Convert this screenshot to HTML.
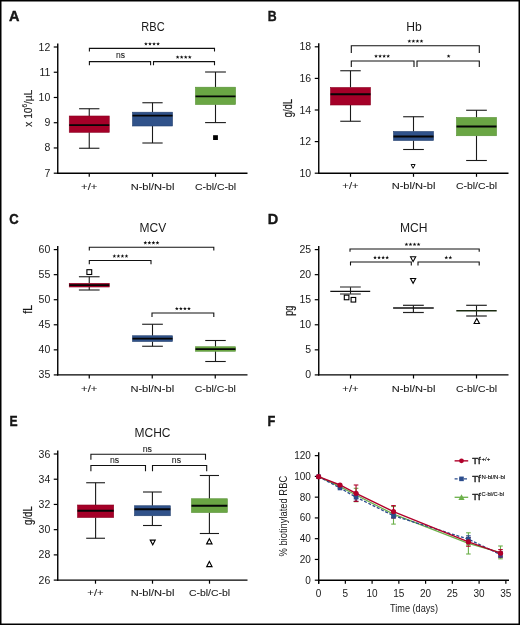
<!DOCTYPE html>
<html><head><meta charset="utf-8"><style>
html,body{margin:0;padding:0;background:#fff;}
body{width:520px;height:625px;overflow:hidden;font-family:"Liberation Sans",sans-serif;}
svg{display:block;will-change:transform;}
</style></head><body>
<svg width="520" height="625" viewBox="0 0 520 625" font-family="Liberation Sans, sans-serif">
<rect x="0" y="0" width="520" height="625" fill="#fff"/>
<text x="9" y="21" font-size="14.5" text-anchor="start" fill="#1a1a1a" font-weight="bold" stroke="#000" stroke-width="0.35">A</text>
<text x="153" y="31.4" font-size="12" text-anchor="middle" fill="#1a1a1a" textLength="23.3" lengthAdjust="spacingAndGlyphs">RBC</text>
<line x1="57.75" y1="43.4" x2="57.75" y2="173.79999999999998" stroke="#000" stroke-width="1.4"/>
<line x1="53.75" y1="173.2" x2="57.75" y2="173.2" stroke="#000" stroke-width="1.2"/>
<text x="50.3" y="176.7" font-size="10.5" text-anchor="end" fill="#1a1a1a">7</text>
<line x1="53.75" y1="147.95999999999998" x2="57.75" y2="147.95999999999998" stroke="#000" stroke-width="1.2"/>
<text x="50.3" y="151.45999999999998" font-size="10.5" text-anchor="end" fill="#1a1a1a">8</text>
<line x1="53.75" y1="122.72" x2="57.75" y2="122.72" stroke="#000" stroke-width="1.2"/>
<text x="50.3" y="126.22" font-size="10.5" text-anchor="end" fill="#1a1a1a">9</text>
<line x1="53.75" y1="97.47999999999999" x2="57.75" y2="97.47999999999999" stroke="#000" stroke-width="1.2"/>
<text x="50.3" y="100.97999999999999" font-size="10.5" text-anchor="end" fill="#1a1a1a">10</text>
<line x1="53.75" y1="72.24" x2="57.75" y2="72.24" stroke="#000" stroke-width="1.2"/>
<text x="50.3" y="75.74" font-size="10.5" text-anchor="end" fill="#1a1a1a">11</text>
<line x1="53.75" y1="47.0" x2="57.75" y2="47.0" stroke="#000" stroke-width="1.2"/>
<text x="50.3" y="50.5" font-size="10.5" text-anchor="end" fill="#1a1a1a">12</text>
<text x="32" y="108.2" font-size="11.5" text-anchor="middle" fill="#1a1a1a" transform="rotate(-90 32 108.2)" stroke="#1a1a1a" stroke-width="0.15" textLength="37" lengthAdjust="spacingAndGlyphs">x 10<tspan dy="-5" font-size="7.5">6</tspan><tspan dy="5">/µL</tspan></text>
<line x1="57.05" y1="173.2" x2="247.5" y2="173.2" stroke="#000" stroke-width="1.4"/>
<line x1="89.25" y1="173.2" x2="89.25" y2="176.79999999999998" stroke="#000" stroke-width="1.2"/>
<text x="89.25" y="189.5" font-size="9.5" text-anchor="middle" fill="#1a1a1a" textLength="16.3" lengthAdjust="spacingAndGlyphs" stroke="#1a1a1a" stroke-width="0.08">+/+</text>
<line x1="152.5" y1="173.2" x2="152.5" y2="176.79999999999998" stroke="#000" stroke-width="1.2"/>
<text x="152.5" y="189.5" font-size="9.5" text-anchor="middle" fill="#1a1a1a" textLength="43.75" lengthAdjust="spacingAndGlyphs" stroke="#1a1a1a" stroke-width="0.08">N-bl/N-bl</text>
<line x1="215.5" y1="173.2" x2="215.5" y2="176.79999999999998" stroke="#000" stroke-width="1.2"/>
<text x="215.5" y="189.5" font-size="9.5" text-anchor="middle" fill="#1a1a1a" textLength="41.25" lengthAdjust="spacingAndGlyphs" stroke="#1a1a1a" stroke-width="0.08">C-bl/C-bl</text>
<path d="M89.4 51.6V48.4H214.5V51.6" fill="none" stroke="#111" stroke-width="1.1"/>
<path d="M89.4 65.2V61.6H150.6V65.2" fill="none" stroke="#111" stroke-width="1.1"/>
<path d="M153.5 65.2V61.6H214.5V65.2" fill="none" stroke="#111" stroke-width="1.1"/>
<polygon points="145.93,42.00 146.42,43.31 147.83,43.38 146.73,44.26 147.10,45.62 145.93,44.85 144.75,45.62 145.12,44.26 144.02,43.38 145.43,43.31" fill="#111"/>
<polygon points="149.98,42.00 150.47,43.31 151.88,43.38 150.78,44.26 151.15,45.62 149.98,44.85 148.80,45.62 149.17,44.26 148.07,43.38 149.48,43.31" fill="#111"/>
<polygon points="154.03,42.00 154.52,43.31 155.93,43.38 154.83,44.26 155.20,45.62 154.03,44.85 152.85,45.62 153.22,44.26 152.12,43.38 153.53,43.31" fill="#111"/>
<polygon points="158.08,42.00 158.57,43.31 159.98,43.38 158.88,44.26 159.25,45.62 158.08,44.85 156.90,45.62 157.27,44.26 156.17,43.38 157.58,43.31" fill="#111"/>
<text x="120.6" y="58.3" font-size="9.2" text-anchor="middle" fill="#1a1a1a" textLength="9" lengthAdjust="spacingAndGlyphs" stroke="#1a1a1a" stroke-width="0.08">ns</text>
<polygon points="177.62,55.20 178.12,56.51 179.53,56.58 178.43,57.46 178.80,58.82 177.62,58.05 176.45,58.82 176.82,57.46 175.72,56.58 177.13,56.51" fill="#111"/>
<polygon points="181.68,55.20 182.17,56.51 183.58,56.58 182.48,57.46 182.85,58.82 181.68,58.05 180.50,58.82 180.87,57.46 179.77,56.58 181.18,56.51" fill="#111"/>
<polygon points="185.72,55.20 186.22,56.51 187.63,56.58 186.53,57.46 186.90,58.82 185.72,58.05 184.55,58.82 184.92,57.46 183.82,56.58 185.23,56.51" fill="#111"/>
<polygon points="189.78,55.20 190.27,56.51 191.68,56.58 190.58,57.46 190.95,58.82 189.78,58.05 188.60,58.82 188.97,57.46 187.87,56.58 189.28,56.51" fill="#111"/>
<line x1="89.25" y1="108.75" x2="89.25" y2="116" stroke="#1a1a1a" stroke-width="1.1"/>
<line x1="89.25" y1="132.3" x2="89.25" y2="148.25" stroke="#1a1a1a" stroke-width="1.1"/>
<line x1="79.1" y1="108.75" x2="99.4" y2="108.75" stroke="#1a1a1a" stroke-width="1.1"/>
<line x1="79.1" y1="148.25" x2="99.4" y2="148.25" stroke="#1a1a1a" stroke-width="1.1"/>
<rect x="69.25" y="116" width="40" height="16.30000000000001" fill="#a50028" stroke="#8a0020" stroke-width="0.6"/>
<line x1="69.25" y1="125.2" x2="109.25" y2="125.2" stroke="#050505" stroke-width="1.8"/>
<line x1="152.5" y1="102.75" x2="152.5" y2="112.2" stroke="#1a1a1a" stroke-width="1.1"/>
<line x1="152.5" y1="126" x2="152.5" y2="143" stroke="#1a1a1a" stroke-width="1.1"/>
<line x1="142.35" y1="102.75" x2="162.65" y2="102.75" stroke="#1a1a1a" stroke-width="1.1"/>
<line x1="142.35" y1="143" x2="162.65" y2="143" stroke="#1a1a1a" stroke-width="1.1"/>
<rect x="132.5" y="112.2" width="40" height="13.799999999999997" fill="#30528a" stroke="#24406e" stroke-width="0.6"/>
<line x1="132.5" y1="115.7" x2="172.5" y2="115.7" stroke="#050505" stroke-width="1.8"/>
<line x1="215.5" y1="72" x2="215.5" y2="87.2" stroke="#1a1a1a" stroke-width="1.1"/>
<line x1="215.5" y1="104.5" x2="215.5" y2="122.6" stroke="#1a1a1a" stroke-width="1.1"/>
<line x1="205.1" y1="72" x2="225.9" y2="72" stroke="#1a1a1a" stroke-width="1.1"/>
<line x1="205.1" y1="122.6" x2="225.9" y2="122.6" stroke="#1a1a1a" stroke-width="1.1"/>
<rect x="195.5" y="87.2" width="40" height="17.299999999999997" fill="#6aa644" stroke="#559033" stroke-width="0.6"/>
<line x1="195.5" y1="96.3" x2="235.5" y2="96.3" stroke="#050505" stroke-width="1.8"/>
<rect x="213.1" y="135.2" width="4.8" height="4.8" fill="#000"/>
<text x="267.8" y="21" font-size="14.5" text-anchor="start" fill="#1a1a1a" font-weight="bold" textLength="8.9" lengthAdjust="spacingAndGlyphs" stroke="#000" stroke-width="0.35">B</text>
<text x="414" y="31.2" font-size="12" text-anchor="middle" fill="#1a1a1a" textLength="15.5" lengthAdjust="spacingAndGlyphs">Hb</text>
<line x1="318.75" y1="43.19999999999998" x2="318.75" y2="173.79999999999998" stroke="#000" stroke-width="1.4"/>
<line x1="314.75" y1="173.2" x2="318.75" y2="173.2" stroke="#000" stroke-width="1.2"/>
<text x="311.2" y="176.7" font-size="10.5" text-anchor="end" fill="#1a1a1a">10</text>
<line x1="314.75" y1="141.6" x2="318.75" y2="141.6" stroke="#000" stroke-width="1.2"/>
<text x="311.2" y="145.1" font-size="10.5" text-anchor="end" fill="#1a1a1a">12</text>
<line x1="314.75" y1="109.99999999999999" x2="318.75" y2="109.99999999999999" stroke="#000" stroke-width="1.2"/>
<text x="311.2" y="113.49999999999999" font-size="10.5" text-anchor="end" fill="#1a1a1a">14</text>
<line x1="314.75" y1="78.39999999999998" x2="318.75" y2="78.39999999999998" stroke="#000" stroke-width="1.2"/>
<text x="311.2" y="81.89999999999998" font-size="10.5" text-anchor="end" fill="#1a1a1a">16</text>
<line x1="314.75" y1="46.79999999999998" x2="318.75" y2="46.79999999999998" stroke="#000" stroke-width="1.2"/>
<text x="311.2" y="50.29999999999998" font-size="10.5" text-anchor="end" fill="#1a1a1a">18</text>
<text x="292.3" y="108.1" font-size="12.3" text-anchor="middle" fill="#1a1a1a" textLength="18.3" lengthAdjust="spacingAndGlyphs" transform="rotate(-90 292.3 108.1)" stroke="#1a1a1a" stroke-width="0.2">g/dL</text>
<line x1="318.05" y1="173.2" x2="508.5" y2="173.2" stroke="#000" stroke-width="1.4"/>
<line x1="350.5" y1="173.2" x2="350.5" y2="176.79999999999998" stroke="#000" stroke-width="1.2"/>
<text x="350.5" y="189.3" font-size="9.5" text-anchor="middle" fill="#1a1a1a" textLength="16.3" lengthAdjust="spacingAndGlyphs" stroke="#1a1a1a" stroke-width="0.08">+/+</text>
<line x1="413.5" y1="173.2" x2="413.5" y2="176.79999999999998" stroke="#000" stroke-width="1.2"/>
<text x="413.5" y="189.3" font-size="9.5" text-anchor="middle" fill="#1a1a1a" textLength="43.75" lengthAdjust="spacingAndGlyphs" stroke="#1a1a1a" stroke-width="0.08">N-bl/N-bl</text>
<line x1="476.5" y1="173.2" x2="476.5" y2="176.79999999999998" stroke="#000" stroke-width="1.2"/>
<text x="476.5" y="189.3" font-size="9.5" text-anchor="middle" fill="#1a1a1a" textLength="41.25" lengthAdjust="spacingAndGlyphs" stroke="#1a1a1a" stroke-width="0.08">C-bl/C-bl</text>
<path d="M351.3 52.900000000000006V45.7H479.3V52.900000000000006" fill="none" stroke="#111" stroke-width="1.1"/>
<path d="M351.3 67V61H414V67" fill="none" stroke="#111" stroke-width="1.1"/>
<path d="M417 67V61H479.3V67" fill="none" stroke="#111" stroke-width="1.1"/>
<polygon points="409.32,39.20 409.82,40.51 411.23,40.58 410.13,41.46 410.50,42.82 409.32,42.05 408.15,42.82 408.52,41.46 407.42,40.58 408.83,40.51" fill="#111"/>
<polygon points="413.38,39.20 413.87,40.51 415.28,40.58 414.18,41.46 414.55,42.82 413.38,42.05 412.20,42.82 412.57,41.46 411.47,40.58 412.88,40.51" fill="#111"/>
<polygon points="417.43,39.20 417.92,40.51 419.33,40.58 418.23,41.46 418.60,42.82 417.43,42.05 416.25,42.82 416.62,41.46 415.52,40.58 416.93,40.51" fill="#111"/>
<polygon points="421.47,39.20 421.97,40.51 423.38,40.58 422.28,41.46 422.65,42.82 421.47,42.05 420.30,42.82 420.67,41.46 419.57,40.58 420.98,40.51" fill="#111"/>
<polygon points="376.03,54.20 376.52,55.51 377.93,55.58 376.83,56.46 377.20,57.82 376.03,57.05 374.85,57.82 375.22,56.46 374.12,55.58 375.53,55.51" fill="#111"/>
<polygon points="380.08,54.20 380.57,55.51 381.98,55.58 380.88,56.46 381.25,57.82 380.08,57.05 378.90,57.82 379.27,56.46 378.17,55.58 379.58,55.51" fill="#111"/>
<polygon points="384.13,54.20 384.62,55.51 386.03,55.58 384.93,56.46 385.30,57.82 384.13,57.05 382.95,57.82 383.32,56.46 382.22,55.58 383.63,55.51" fill="#111"/>
<polygon points="388.18,54.20 388.67,55.51 390.08,55.58 388.98,56.46 389.35,57.82 388.18,57.05 387.00,57.82 387.37,56.46 386.27,55.58 387.68,55.51" fill="#111"/>
<polygon points="448.60,54.20 449.10,55.51 450.50,55.58 449.41,56.46 449.78,57.82 448.60,57.05 447.42,57.82 447.79,56.46 446.70,55.58 448.10,55.51" fill="#111"/>
<line x1="350.5" y1="70.75" x2="350.5" y2="87.5" stroke="#1a1a1a" stroke-width="1.1"/>
<line x1="350.5" y1="105" x2="350.5" y2="121.25" stroke="#1a1a1a" stroke-width="1.1"/>
<line x1="340.25" y1="70.75" x2="360.75" y2="70.75" stroke="#1a1a1a" stroke-width="1.1"/>
<line x1="340.25" y1="121.25" x2="360.75" y2="121.25" stroke="#1a1a1a" stroke-width="1.1"/>
<rect x="330.5" y="87.5" width="40" height="17.5" fill="#a50028" stroke="#8a0020" stroke-width="0.6"/>
<line x1="330.5" y1="94.25" x2="370.5" y2="94.25" stroke="#050505" stroke-width="1.8"/>
<line x1="413.5" y1="116.75" x2="413.5" y2="131.5" stroke="#1a1a1a" stroke-width="1.1"/>
<line x1="413.5" y1="140.5" x2="413.5" y2="149.5" stroke="#1a1a1a" stroke-width="1.1"/>
<line x1="403.15" y1="116.75" x2="423.85" y2="116.75" stroke="#1a1a1a" stroke-width="1.1"/>
<line x1="403.15" y1="149.5" x2="423.85" y2="149.5" stroke="#1a1a1a" stroke-width="1.1"/>
<rect x="393.5" y="131.5" width="40" height="9.0" fill="#30528a" stroke="#24406e" stroke-width="0.6"/>
<line x1="393.5" y1="136.5" x2="433.5" y2="136.5" stroke="#050505" stroke-width="1.8"/>
<line x1="476.5" y1="110.25" x2="476.5" y2="117.5" stroke="#1a1a1a" stroke-width="1.1"/>
<line x1="476.5" y1="135.75" x2="476.5" y2="160.5" stroke="#1a1a1a" stroke-width="1.1"/>
<line x1="466.15" y1="110.25" x2="486.85" y2="110.25" stroke="#1a1a1a" stroke-width="1.1"/>
<line x1="466.15" y1="160.5" x2="486.85" y2="160.5" stroke="#1a1a1a" stroke-width="1.1"/>
<rect x="456.5" y="117.5" width="40" height="18.25" fill="#6aa644" stroke="#559033" stroke-width="0.6"/>
<line x1="456.5" y1="126.5" x2="496.5" y2="126.5" stroke="#050505" stroke-width="1.8"/>
<path d="M411.10 164.50L413.10 168.30L415.10 164.50Z" fill="none" stroke="#000" stroke-width="0.95" stroke-linejoin="miter"/>
<text x="9.2" y="224" font-size="14.5" text-anchor="start" fill="#1a1a1a" font-weight="bold" textLength="9.4" lengthAdjust="spacingAndGlyphs" stroke="#000" stroke-width="0.35">C</text>
<text x="152.9" y="232.4" font-size="12" text-anchor="middle" fill="#1a1a1a" textLength="26.7" lengthAdjust="spacingAndGlyphs">MCV</text>
<line x1="57.75" y1="246.0" x2="57.75" y2="375.5" stroke="#000" stroke-width="1.4"/>
<line x1="53.75" y1="374.9" x2="57.75" y2="374.9" stroke="#000" stroke-width="1.2"/>
<text x="50.3" y="378.4" font-size="10.5" text-anchor="end" fill="#1a1a1a">35</text>
<line x1="53.75" y1="349.84" x2="57.75" y2="349.84" stroke="#000" stroke-width="1.2"/>
<text x="50.3" y="353.34" font-size="10.5" text-anchor="end" fill="#1a1a1a">40</text>
<line x1="53.75" y1="324.78" x2="57.75" y2="324.78" stroke="#000" stroke-width="1.2"/>
<text x="50.3" y="328.28" font-size="10.5" text-anchor="end" fill="#1a1a1a">45</text>
<line x1="53.75" y1="299.71999999999997" x2="57.75" y2="299.71999999999997" stroke="#000" stroke-width="1.2"/>
<text x="50.3" y="303.21999999999997" font-size="10.5" text-anchor="end" fill="#1a1a1a">50</text>
<line x1="53.75" y1="274.65999999999997" x2="57.75" y2="274.65999999999997" stroke="#000" stroke-width="1.2"/>
<text x="50.3" y="278.15999999999997" font-size="10.5" text-anchor="end" fill="#1a1a1a">55</text>
<line x1="53.75" y1="249.6" x2="57.75" y2="249.6" stroke="#000" stroke-width="1.2"/>
<text x="50.3" y="253.1" font-size="10.5" text-anchor="end" fill="#1a1a1a">60</text>
<text x="32.3" y="309.4" font-size="12" text-anchor="middle" fill="#1a1a1a" textLength="8.7" lengthAdjust="spacingAndGlyphs" transform="rotate(-90 32.3 309.4)" stroke="#1a1a1a" stroke-width="0.2">fL</text>
<line x1="57.05" y1="374.9" x2="247.5" y2="374.9" stroke="#000" stroke-width="1.4"/>
<line x1="89.25" y1="374.9" x2="89.25" y2="378.5" stroke="#000" stroke-width="1.2"/>
<text x="89.25" y="391.7" font-size="9.5" text-anchor="middle" fill="#1a1a1a" textLength="16.3" lengthAdjust="spacingAndGlyphs" stroke="#1a1a1a" stroke-width="0.08">+/+</text>
<line x1="152.25" y1="374.9" x2="152.25" y2="378.5" stroke="#000" stroke-width="1.2"/>
<text x="152.25" y="391.7" font-size="9.5" text-anchor="middle" fill="#1a1a1a" textLength="43.75" lengthAdjust="spacingAndGlyphs" stroke="#1a1a1a" stroke-width="0.08">N-bl/N-bl</text>
<line x1="215.25" y1="374.9" x2="215.25" y2="378.5" stroke="#000" stroke-width="1.2"/>
<text x="215.25" y="391.7" font-size="9.5" text-anchor="middle" fill="#1a1a1a" textLength="41.25" lengthAdjust="spacingAndGlyphs" stroke="#1a1a1a" stroke-width="0.08">C-bl/C-bl</text>
<path d="M89.3 250.5V247.2H213.8V250.5" fill="none" stroke="#111" stroke-width="1.1"/>
<path d="M89.3 264.3V260.5H151V264.3" fill="none" stroke="#111" stroke-width="1.1"/>
<path d="M152 317V313H213.8V317" fill="none" stroke="#111" stroke-width="1.1"/>
<polygon points="145.33,240.80 145.82,242.11 147.23,242.18 146.13,243.06 146.50,244.42 145.33,243.65 144.15,244.42 144.52,243.06 143.42,242.18 144.83,242.11" fill="#111"/>
<polygon points="149.38,240.80 149.87,242.11 151.28,242.18 150.18,243.06 150.55,244.42 149.38,243.65 148.20,244.42 148.57,243.06 147.47,242.18 148.88,242.11" fill="#111"/>
<polygon points="153.43,240.80 153.92,242.11 155.33,242.18 154.23,243.06 154.60,244.42 153.43,243.65 152.25,244.42 152.62,243.06 151.52,242.18 152.93,242.11" fill="#111"/>
<polygon points="157.48,240.80 157.97,242.11 159.38,242.18 158.28,243.06 158.65,244.42 157.48,243.65 156.30,244.42 156.67,243.06 155.57,242.18 156.98,242.11" fill="#111"/>
<polygon points="114.33,254.10 114.82,255.41 116.23,255.48 115.13,256.36 115.50,257.72 114.33,256.95 113.15,257.72 113.52,256.36 112.42,255.48 113.83,255.41" fill="#111"/>
<polygon points="118.38,254.10 118.87,255.41 120.28,255.48 119.18,256.36 119.55,257.72 118.38,256.95 117.20,257.72 117.57,256.36 116.47,255.48 117.88,255.41" fill="#111"/>
<polygon points="122.42,254.10 122.92,255.41 124.33,255.48 123.23,256.36 123.60,257.72 122.42,256.95 121.25,257.72 121.62,256.36 120.52,255.48 121.93,255.41" fill="#111"/>
<polygon points="126.47,254.10 126.97,255.41 128.38,255.48 127.28,256.36 127.65,257.72 126.47,256.95 125.30,257.72 125.67,256.36 124.57,255.48 125.98,255.41" fill="#111"/>
<polygon points="176.83,306.70 177.32,308.01 178.73,308.08 177.63,308.96 178.00,310.32 176.83,309.55 175.65,310.32 176.02,308.96 174.92,308.08 176.33,308.01" fill="#111"/>
<polygon points="180.88,306.70 181.37,308.01 182.78,308.08 181.68,308.96 182.05,310.32 180.88,309.55 179.70,310.32 180.07,308.96 178.97,308.08 180.38,308.01" fill="#111"/>
<polygon points="184.93,306.70 185.42,308.01 186.83,308.08 185.73,308.96 186.10,310.32 184.93,309.55 183.75,310.32 184.12,308.96 183.02,308.08 184.43,308.01" fill="#111"/>
<polygon points="188.98,306.70 189.47,308.01 190.88,308.08 189.78,308.96 190.15,310.32 188.98,309.55 187.80,310.32 188.17,308.96 187.07,308.08 188.48,308.01" fill="#111"/>
<line x1="89.25" y1="276.75" x2="89.25" y2="283.3" stroke="#1a1a1a" stroke-width="1.1"/>
<line x1="89.25" y1="287" x2="89.25" y2="290" stroke="#1a1a1a" stroke-width="1.1"/>
<line x1="78.9" y1="276.75" x2="99.6" y2="276.75" stroke="#1a1a1a" stroke-width="1.1"/>
<line x1="78.9" y1="290" x2="99.6" y2="290" stroke="#1a1a1a" stroke-width="1.1"/>
<rect x="69.25" y="283.3" width="40" height="3.6999999999999886" fill="#a50028" stroke="#8a0020" stroke-width="0.6"/>
<line x1="69.25" y1="285.1" x2="109.25" y2="285.1" stroke="#050505" stroke-width="1.6"/>
<line x1="152.5" y1="324.25" x2="152.5" y2="335.75" stroke="#1a1a1a" stroke-width="1.1"/>
<line x1="152.5" y1="341.5" x2="152.5" y2="346.25" stroke="#1a1a1a" stroke-width="1.1"/>
<line x1="142.15" y1="324.25" x2="162.85" y2="324.25" stroke="#1a1a1a" stroke-width="1.1"/>
<line x1="142.15" y1="346.25" x2="162.85" y2="346.25" stroke="#1a1a1a" stroke-width="1.1"/>
<rect x="132.5" y="335.75" width="40" height="5.75" fill="#30528a" stroke="#24406e" stroke-width="0.6"/>
<line x1="132.5" y1="338.7" x2="172.5" y2="338.7" stroke="#050505" stroke-width="1.8"/>
<line x1="215.5" y1="340.5" x2="215.5" y2="346.75" stroke="#1a1a1a" stroke-width="1.1"/>
<line x1="215.5" y1="351.25" x2="215.5" y2="361.5" stroke="#1a1a1a" stroke-width="1.1"/>
<line x1="205.25" y1="340.5" x2="225.75" y2="340.5" stroke="#1a1a1a" stroke-width="1.1"/>
<line x1="205.25" y1="361.5" x2="225.75" y2="361.5" stroke="#1a1a1a" stroke-width="1.1"/>
<rect x="195.5" y="346.75" width="40" height="4.5" fill="#6aa644" stroke="#559033" stroke-width="0.6"/>
<line x1="195.5" y1="349.1" x2="235.5" y2="349.1" stroke="#050505" stroke-width="1.8"/>
<rect x="86.89999999999999" y="269.70000000000005" width="4.8" height="4.8" fill="#fff" stroke="#000" stroke-width="1.1"/>
<text x="267.8" y="223.8" font-size="14.5" text-anchor="start" fill="#1a1a1a" font-weight="bold" stroke="#000" stroke-width="0.35">D</text>
<text x="413.8" y="232.4" font-size="12" text-anchor="middle" fill="#1a1a1a" textLength="27.5" lengthAdjust="spacingAndGlyphs">MCH</text>
<line x1="318.75" y1="246.0" x2="318.75" y2="375.5" stroke="#000" stroke-width="1.4"/>
<line x1="314.75" y1="374.9" x2="318.75" y2="374.9" stroke="#000" stroke-width="1.2"/>
<text x="311.2" y="378.4" font-size="10.5" text-anchor="end" fill="#1a1a1a">0</text>
<line x1="314.75" y1="349.84" x2="318.75" y2="349.84" stroke="#000" stroke-width="1.2"/>
<text x="311.2" y="353.34" font-size="10.5" text-anchor="end" fill="#1a1a1a">5</text>
<line x1="314.75" y1="324.78" x2="318.75" y2="324.78" stroke="#000" stroke-width="1.2"/>
<text x="311.2" y="328.28" font-size="10.5" text-anchor="end" fill="#1a1a1a">10</text>
<line x1="314.75" y1="299.71999999999997" x2="318.75" y2="299.71999999999997" stroke="#000" stroke-width="1.2"/>
<text x="311.2" y="303.21999999999997" font-size="10.5" text-anchor="end" fill="#1a1a1a">15</text>
<line x1="314.75" y1="274.65999999999997" x2="318.75" y2="274.65999999999997" stroke="#000" stroke-width="1.2"/>
<text x="311.2" y="278.15999999999997" font-size="10.5" text-anchor="end" fill="#1a1a1a">20</text>
<line x1="314.75" y1="249.6" x2="318.75" y2="249.6" stroke="#000" stroke-width="1.2"/>
<text x="311.2" y="253.1" font-size="10.5" text-anchor="end" fill="#1a1a1a">25</text>
<text x="292.8" y="310.8" font-size="12.2" text-anchor="middle" fill="#1a1a1a" textLength="10" lengthAdjust="spacingAndGlyphs" transform="rotate(-90 292.8 310.8)" stroke="#1a1a1a" stroke-width="0.2">pg</text>
<line x1="318.05" y1="374.9" x2="508.5" y2="374.9" stroke="#000" stroke-width="1.4"/>
<line x1="350.5" y1="374.9" x2="350.5" y2="378.5" stroke="#000" stroke-width="1.2"/>
<text x="350.5" y="391.7" font-size="9.5" text-anchor="middle" fill="#1a1a1a" textLength="16.3" lengthAdjust="spacingAndGlyphs" stroke="#1a1a1a" stroke-width="0.08">+/+</text>
<line x1="413.5" y1="374.9" x2="413.5" y2="378.5" stroke="#000" stroke-width="1.2"/>
<text x="413.5" y="391.7" font-size="9.5" text-anchor="middle" fill="#1a1a1a" textLength="43.75" lengthAdjust="spacingAndGlyphs" stroke="#1a1a1a" stroke-width="0.08">N-bl/N-bl</text>
<line x1="476.5" y1="374.9" x2="476.5" y2="378.5" stroke="#000" stroke-width="1.2"/>
<text x="476.5" y="391.7" font-size="9.5" text-anchor="middle" fill="#1a1a1a" textLength="41.25" lengthAdjust="spacingAndGlyphs" stroke="#1a1a1a" stroke-width="0.08">C-bl/C-bl</text>
<path d="M350 251.8V249H479.2V251.8" fill="none" stroke="#111" stroke-width="1.1"/>
<path d="M350.5 265.5V262H411.3V265.5" fill="none" stroke="#111" stroke-width="1.1"/>
<path d="M418 265.5V262H479.2V265.5" fill="none" stroke="#111" stroke-width="1.1"/>
<polygon points="406.43,242.40 406.92,243.71 408.33,243.78 407.23,244.66 407.60,246.02 406.43,245.25 405.25,246.02 405.62,244.66 404.52,243.78 405.93,243.71" fill="#111"/>
<polygon points="410.48,242.40 410.97,243.71 412.38,243.78 411.28,244.66 411.65,246.02 410.48,245.25 409.30,246.02 409.67,244.66 408.57,243.78 409.98,243.71" fill="#111"/>
<polygon points="414.53,242.40 415.02,243.71 416.43,243.78 415.33,244.66 415.70,246.02 414.53,245.25 413.35,246.02 413.72,244.66 412.62,243.78 414.03,243.71" fill="#111"/>
<polygon points="418.57,242.40 419.07,243.71 420.48,243.78 419.38,244.66 419.75,246.02 418.57,245.25 417.40,246.02 417.77,244.66 416.67,243.78 418.08,243.71" fill="#111"/>
<polygon points="375.03,255.60 375.52,256.91 376.93,256.98 375.83,257.86 376.20,259.22 375.03,258.45 373.85,259.22 374.22,257.86 373.12,256.98 374.53,256.91" fill="#111"/>
<polygon points="379.08,255.60 379.57,256.91 380.98,256.98 379.88,257.86 380.25,259.22 379.08,258.45 377.90,259.22 378.27,257.86 377.17,256.98 378.58,256.91" fill="#111"/>
<polygon points="383.13,255.60 383.62,256.91 385.03,256.98 383.93,257.86 384.30,259.22 383.13,258.45 381.95,259.22 382.32,257.86 381.22,256.98 382.63,256.91" fill="#111"/>
<polygon points="387.18,255.60 387.67,256.91 389.08,256.98 387.98,257.86 388.35,259.22 387.18,258.45 386.00,259.22 386.37,257.86 385.27,256.98 386.68,256.91" fill="#111"/>
<polygon points="446.28,255.60 446.77,256.91 448.18,256.98 447.08,257.86 447.45,259.22 446.28,258.45 445.10,259.22 445.47,257.86 444.37,256.98 445.78,256.91" fill="#111"/>
<polygon points="450.33,255.60 450.82,256.91 452.23,256.98 451.13,257.86 451.50,259.22 450.33,258.45 449.15,259.22 449.52,257.86 448.42,256.98 449.83,256.91" fill="#111"/>
<line x1="350.5" y1="287" x2="350.5" y2="294" stroke="#1a1a1a" stroke-width="1.1"/>
<line x1="340" y1="287" x2="360.8" y2="287" stroke="#444" stroke-width="1.2"/>
<line x1="340" y1="294" x2="360.8" y2="294" stroke="#444" stroke-width="1.2"/>
<line x1="330.3" y1="291.35" x2="370.2" y2="291.35" stroke="#111" stroke-width="1.4"/>
<rect x="344.3" y="295.15" width="4.6" height="4.6" fill="#fff" stroke="#000" stroke-width="1.1"/>
<rect x="351.09999999999997" y="297.45" width="4.6" height="4.6" fill="#fff" stroke="#000" stroke-width="1.1"/>
<line x1="413.4" y1="305.3" x2="413.4" y2="312.5" stroke="#1a1a1a" stroke-width="1.1"/>
<line x1="403" y1="305.3" x2="423.8" y2="305.3" stroke="#222" stroke-width="1.2"/>
<line x1="403" y1="312.5" x2="423.8" y2="312.5" stroke="#222" stroke-width="1.2"/>
<line x1="393.1" y1="308" x2="433.75" y2="308" stroke="#111" stroke-width="1.6"/>
<path d="M410.50 256.73L413.10 261.67L415.70 256.73Z" fill="none" stroke="#000" stroke-width="1.1" stroke-linejoin="miter"/>
<path d="M410.50 278.43L413.10 283.37L415.70 278.43Z" fill="none" stroke="#000" stroke-width="1.1" stroke-linejoin="miter"/>
<line x1="476.5" y1="305.3" x2="476.5" y2="316" stroke="#1a1a1a" stroke-width="1.1"/>
<line x1="466.2" y1="305.3" x2="486.8" y2="305.3" stroke="#222" stroke-width="1.2"/>
<line x1="466.2" y1="316" x2="486.8" y2="316" stroke="#222" stroke-width="1.2"/>
<line x1="456.3" y1="310.7" x2="496.7" y2="310.7" stroke="#1a2a10" stroke-width="1.6"/>
<path d="M474.05 323.56L476.75 318.44L479.45 323.56Z" fill="none" stroke="#000" stroke-width="1.1" stroke-linejoin="miter"/>
<text x="9.4" y="425.8" font-size="14.5" text-anchor="start" fill="#1a1a1a" font-weight="bold" textLength="8.1" lengthAdjust="spacingAndGlyphs" stroke="#000" stroke-width="0.35">E</text>
<text x="152.5" y="437.4" font-size="12" text-anchor="middle" fill="#1a1a1a" textLength="36" lengthAdjust="spacingAndGlyphs">MCHC</text>
<line x1="57.75" y1="450.4" x2="57.75" y2="580.7" stroke="#000" stroke-width="1.4"/>
<line x1="53.75" y1="580.1" x2="57.75" y2="580.1" stroke="#000" stroke-width="1.2"/>
<text x="50.3" y="583.6" font-size="10.5" text-anchor="end" fill="#1a1a1a">26</text>
<line x1="53.75" y1="554.88" x2="57.75" y2="554.88" stroke="#000" stroke-width="1.2"/>
<text x="50.3" y="558.38" font-size="10.5" text-anchor="end" fill="#1a1a1a">28</text>
<line x1="53.75" y1="529.6600000000001" x2="57.75" y2="529.6600000000001" stroke="#000" stroke-width="1.2"/>
<text x="50.3" y="533.1600000000001" font-size="10.5" text-anchor="end" fill="#1a1a1a">30</text>
<line x1="53.75" y1="504.44000000000005" x2="57.75" y2="504.44000000000005" stroke="#000" stroke-width="1.2"/>
<text x="50.3" y="507.94000000000005" font-size="10.5" text-anchor="end" fill="#1a1a1a">32</text>
<line x1="53.75" y1="479.22" x2="57.75" y2="479.22" stroke="#000" stroke-width="1.2"/>
<text x="50.3" y="482.72" font-size="10.5" text-anchor="end" fill="#1a1a1a">34</text>
<line x1="53.75" y1="454.0" x2="57.75" y2="454.0" stroke="#000" stroke-width="1.2"/>
<text x="50.3" y="457.5" font-size="10.5" text-anchor="end" fill="#1a1a1a">36</text>
<text x="31.6" y="515.6" font-size="12.3" text-anchor="middle" fill="#1a1a1a" textLength="18.6" lengthAdjust="spacingAndGlyphs" transform="rotate(-90 31.6 515.6)" stroke="#1a1a1a" stroke-width="0.2">g/dL</text>
<line x1="57.05" y1="580.1" x2="247.5" y2="580.1" stroke="#000" stroke-width="1.4"/>
<line x1="95.5" y1="580.1" x2="95.5" y2="583.7" stroke="#000" stroke-width="1.2"/>
<text x="95.5" y="596.2" font-size="9.5" text-anchor="middle" fill="#1a1a1a" textLength="16.3" lengthAdjust="spacingAndGlyphs" stroke="#1a1a1a" stroke-width="0.08">+/+</text>
<line x1="152.5" y1="580.1" x2="152.5" y2="583.7" stroke="#000" stroke-width="1.2"/>
<text x="152.5" y="596.2" font-size="9.5" text-anchor="middle" fill="#1a1a1a" textLength="43.75" lengthAdjust="spacingAndGlyphs" stroke="#1a1a1a" stroke-width="0.08">N-bl/N-bl</text>
<line x1="209.5" y1="580.1" x2="209.5" y2="583.7" stroke="#000" stroke-width="1.2"/>
<text x="209.5" y="596.2" font-size="9.5" text-anchor="middle" fill="#1a1a1a" textLength="41.25" lengthAdjust="spacingAndGlyphs" stroke="#1a1a1a" stroke-width="0.08">C-bl/C-bl</text>
<path d="M90.9 459.8V454.2H205.5V459.8" fill="none" stroke="#111" stroke-width="1.1"/>
<path d="M90.9 471.3V465.5H145.5V471.3" fill="none" stroke="#111" stroke-width="1.1"/>
<path d="M152.5 471.3V465.5H206.7V471.3" fill="none" stroke="#111" stroke-width="1.1"/>
<text x="147.3" y="452" font-size="9.2" text-anchor="middle" fill="#1a1a1a" textLength="9.3" lengthAdjust="spacingAndGlyphs" stroke="#1a1a1a" stroke-width="0.08">ns</text>
<text x="114.6" y="463.2" font-size="9.2" text-anchor="middle" fill="#1a1a1a" textLength="9.2" lengthAdjust="spacingAndGlyphs" stroke="#1a1a1a" stroke-width="0.08">ns</text>
<text x="176.4" y="463.2" font-size="9.2" text-anchor="middle" fill="#1a1a1a" textLength="9.2" lengthAdjust="spacingAndGlyphs" stroke="#1a1a1a" stroke-width="0.08">ns</text>
<line x1="95.6" y1="482.75" x2="95.6" y2="505" stroke="#1a1a1a" stroke-width="1.1"/>
<line x1="95.6" y1="517.5" x2="95.6" y2="538.25" stroke="#1a1a1a" stroke-width="1.1"/>
<line x1="86.19999999999999" y1="482.75" x2="105.0" y2="482.75" stroke="#1a1a1a" stroke-width="1.1"/>
<line x1="86.19999999999999" y1="538.25" x2="105.0" y2="538.25" stroke="#1a1a1a" stroke-width="1.1"/>
<rect x="77.5" y="505" width="36.2" height="12.5" fill="#a50028" stroke="#8a0020" stroke-width="0.6"/>
<line x1="77.5" y1="510.75" x2="113.69999999999999" y2="510.75" stroke="#050505" stroke-width="1.8"/>
<line x1="152.4" y1="492" x2="152.4" y2="505.75" stroke="#1a1a1a" stroke-width="1.1"/>
<line x1="152.4" y1="515.75" x2="152.4" y2="525.5" stroke="#1a1a1a" stroke-width="1.1"/>
<line x1="143.0" y1="492" x2="161.8" y2="492" stroke="#1a1a1a" stroke-width="1.1"/>
<line x1="143.0" y1="525.5" x2="161.8" y2="525.5" stroke="#1a1a1a" stroke-width="1.1"/>
<rect x="134.5" y="505.75" width="35.8" height="10.0" fill="#30528a" stroke="#24406e" stroke-width="0.6"/>
<line x1="134.5" y1="509.25" x2="170.3" y2="509.25" stroke="#050505" stroke-width="1.8"/>
<line x1="209.4" y1="475.5" x2="209.4" y2="498.75" stroke="#1a1a1a" stroke-width="1.1"/>
<line x1="209.4" y1="512.5" x2="209.4" y2="533.5" stroke="#1a1a1a" stroke-width="1.1"/>
<line x1="199.8" y1="475.5" x2="219.0" y2="475.5" stroke="#1a1a1a" stroke-width="1.1"/>
<line x1="199.8" y1="533.5" x2="219.0" y2="533.5" stroke="#1a1a1a" stroke-width="1.1"/>
<rect x="191.5" y="498.75" width="35.8" height="13.75" fill="#6aa644" stroke="#559033" stroke-width="0.6"/>
<line x1="191.5" y1="505.75" x2="227.3" y2="505.75" stroke="#050505" stroke-width="1.8"/>
<path d="M150.25 540.12L152.75 544.88L155.25 540.12Z" fill="none" stroke="#000" stroke-width="1.1" stroke-linejoin="miter"/>
<path d="M206.65 543.87L209.35 538.73L212.05 543.87Z" fill="none" stroke="#000" stroke-width="1.1" stroke-linejoin="miter"/>
<path d="M206.65 566.67L209.35 561.53L212.05 566.67Z" fill="none" stroke="#000" stroke-width="1.1" stroke-linejoin="miter"/>
<text x="267.4" y="425.8" font-size="14.5" text-anchor="start" fill="#1a1a1a" font-weight="bold" textLength="7.8" lengthAdjust="spacingAndGlyphs" stroke="#000" stroke-width="0.35">F</text>
<line x1="318.7" y1="452.2" x2="318.7" y2="583.8" stroke="#000" stroke-width="1.4"/>
<line x1="314.8" y1="580.2" x2="318.7" y2="580.2" stroke="#000" stroke-width="1.2"/>
<text x="310.9" y="583.7" font-size="10" text-anchor="end" fill="#1a1a1a">0</text>
<line x1="314.8" y1="559.44" x2="318.7" y2="559.44" stroke="#000" stroke-width="1.2"/>
<text x="310.9" y="562.94" font-size="10" text-anchor="end" fill="#1a1a1a">20</text>
<line x1="314.8" y1="538.6800000000001" x2="318.7" y2="538.6800000000001" stroke="#000" stroke-width="1.2"/>
<text x="310.9" y="542.1800000000001" font-size="10" text-anchor="end" fill="#1a1a1a">40</text>
<line x1="314.8" y1="517.9200000000001" x2="318.7" y2="517.9200000000001" stroke="#000" stroke-width="1.2"/>
<text x="310.9" y="521.4200000000001" font-size="10" text-anchor="end" fill="#1a1a1a">60</text>
<line x1="314.8" y1="497.16" x2="318.7" y2="497.16" stroke="#000" stroke-width="1.2"/>
<text x="310.9" y="500.66" font-size="10" text-anchor="end" fill="#1a1a1a">80</text>
<line x1="314.8" y1="476.40000000000003" x2="318.7" y2="476.40000000000003" stroke="#000" stroke-width="1.2"/>
<text x="310.9" y="479.90000000000003" font-size="10" text-anchor="end" fill="#1a1a1a">100</text>
<line x1="314.8" y1="455.64000000000004" x2="318.7" y2="455.64000000000004" stroke="#000" stroke-width="1.2"/>
<text x="310.9" y="459.14000000000004" font-size="10" text-anchor="end" fill="#1a1a1a">120</text>
<line x1="318" y1="580.2" x2="509" y2="580.2" stroke="#000" stroke-width="1.4"/>
<line x1="318.6" y1="580.2" x2="318.6" y2="583.8" stroke="#000" stroke-width="1.2"/>
<text x="318.6" y="597" font-size="10" text-anchor="middle" fill="#1a1a1a">0</text>
<line x1="345.35" y1="580.2" x2="345.35" y2="583.8" stroke="#000" stroke-width="1.2"/>
<text x="345.35" y="597" font-size="10" text-anchor="middle" fill="#1a1a1a">5</text>
<line x1="372.1" y1="580.2" x2="372.1" y2="583.8" stroke="#000" stroke-width="1.2"/>
<text x="372.1" y="597" font-size="10" text-anchor="middle" fill="#1a1a1a">10</text>
<line x1="398.85" y1="580.2" x2="398.85" y2="583.8" stroke="#000" stroke-width="1.2"/>
<text x="398.85" y="597" font-size="10" text-anchor="middle" fill="#1a1a1a">15</text>
<line x1="425.6" y1="580.2" x2="425.6" y2="583.8" stroke="#000" stroke-width="1.2"/>
<text x="425.6" y="597" font-size="10" text-anchor="middle" fill="#1a1a1a">20</text>
<line x1="452.35" y1="580.2" x2="452.35" y2="583.8" stroke="#000" stroke-width="1.2"/>
<text x="452.35" y="597" font-size="10" text-anchor="middle" fill="#1a1a1a">25</text>
<line x1="479.1" y1="580.2" x2="479.1" y2="583.8" stroke="#000" stroke-width="1.2"/>
<text x="479.1" y="597" font-size="10" text-anchor="middle" fill="#1a1a1a">30</text>
<line x1="505.85" y1="580.2" x2="505.85" y2="583.8" stroke="#000" stroke-width="1.2"/>
<text x="505.85" y="597" font-size="10" text-anchor="middle" fill="#1a1a1a">35</text>
<text x="414" y="611.5" font-size="10.5" text-anchor="middle" fill="#1a1a1a" textLength="48" lengthAdjust="spacingAndGlyphs">Time (days)</text>
<text x="287.4" y="516.2" font-size="10.3" text-anchor="middle" fill="#1a1a1a" textLength="80.7" lengthAdjust="spacingAndGlyphs" transform="rotate(-90 287.4 516.2)">% biotinylated RBC</text>
<line x1="356.05" y1="488.3" x2="356.05" y2="501.7" stroke="#6cb04a" stroke-width="1.1"/>
<line x1="353.75" y1="488.3" x2="358.35" y2="488.3" stroke="#6cb04a" stroke-width="1.1"/>
<line x1="353.75" y1="501.7" x2="358.35" y2="501.7" stroke="#6cb04a" stroke-width="1.1"/>
<line x1="393.5" y1="506.5" x2="393.5" y2="524.1" stroke="#6cb04a" stroke-width="1.1"/>
<line x1="391.2" y1="506.5" x2="395.8" y2="506.5" stroke="#6cb04a" stroke-width="1.1"/>
<line x1="391.2" y1="524.1" x2="395.8" y2="524.1" stroke="#6cb04a" stroke-width="1.1"/>
<line x1="468.4" y1="532.8" x2="468.4" y2="554" stroke="#6cb04a" stroke-width="1.1"/>
<line x1="466.09999999999997" y1="532.8" x2="470.7" y2="532.8" stroke="#6cb04a" stroke-width="1.1"/>
<line x1="466.09999999999997" y1="554" x2="470.7" y2="554" stroke="#6cb04a" stroke-width="1.1"/>
<line x1="500.5" y1="546" x2="500.5" y2="558.8" stroke="#6cb04a" stroke-width="1.1"/>
<line x1="498.2" y1="546" x2="502.8" y2="546" stroke="#6cb04a" stroke-width="1.1"/>
<line x1="498.2" y1="558.8" x2="502.8" y2="558.8" stroke="#6cb04a" stroke-width="1.1"/>
<line x1="356.05" y1="493.5" x2="356.05" y2="501.3" stroke="#2b4c8c" stroke-width="1.1"/>
<line x1="353.75" y1="493.5" x2="358.35" y2="493.5" stroke="#2b4c8c" stroke-width="1.1"/>
<line x1="353.75" y1="501.3" x2="358.35" y2="501.3" stroke="#2b4c8c" stroke-width="1.1"/>
<line x1="393.5" y1="513.2" x2="393.5" y2="518.2" stroke="#2b4c8c" stroke-width="1.1"/>
<line x1="391.2" y1="513.2" x2="395.8" y2="513.2" stroke="#2b4c8c" stroke-width="1.1"/>
<line x1="391.2" y1="518.2" x2="395.8" y2="518.2" stroke="#2b4c8c" stroke-width="1.1"/>
<line x1="468.4" y1="535.8" x2="468.4" y2="542.6" stroke="#2b4c8c" stroke-width="1.1"/>
<line x1="466.09999999999997" y1="535.8" x2="470.7" y2="535.8" stroke="#2b4c8c" stroke-width="1.1"/>
<line x1="466.09999999999997" y1="542.6" x2="470.7" y2="542.6" stroke="#2b4c8c" stroke-width="1.1"/>
<line x1="500.5" y1="551.8" x2="500.5" y2="557.4" stroke="#2b4c8c" stroke-width="1.1"/>
<line x1="498.2" y1="551.8" x2="502.8" y2="551.8" stroke="#2b4c8c" stroke-width="1.1"/>
<line x1="498.2" y1="557.4" x2="502.8" y2="557.4" stroke="#2b4c8c" stroke-width="1.1"/>
<line x1="356.05" y1="485" x2="356.05" y2="501.4" stroke="#b0002a" stroke-width="1.1"/>
<line x1="353.75" y1="485" x2="358.35" y2="485" stroke="#b0002a" stroke-width="1.1"/>
<line x1="353.75" y1="501.4" x2="358.35" y2="501.4" stroke="#b0002a" stroke-width="1.1"/>
<line x1="393.5" y1="505.6" x2="393.5" y2="517.7" stroke="#b0002a" stroke-width="1.1"/>
<line x1="391.2" y1="505.6" x2="395.8" y2="505.6" stroke="#b0002a" stroke-width="1.1"/>
<line x1="391.2" y1="517.7" x2="395.8" y2="517.7" stroke="#b0002a" stroke-width="1.1"/>
<line x1="468.4" y1="537.5" x2="468.4" y2="546.2" stroke="#b0002a" stroke-width="1.1"/>
<line x1="466.09999999999997" y1="537.5" x2="470.7" y2="537.5" stroke="#b0002a" stroke-width="1.1"/>
<line x1="466.09999999999997" y1="546.2" x2="470.7" y2="546.2" stroke="#b0002a" stroke-width="1.1"/>
<line x1="500.5" y1="549.6" x2="500.5" y2="556.8" stroke="#b0002a" stroke-width="1.1"/>
<line x1="498.2" y1="549.6" x2="502.8" y2="549.6" stroke="#b0002a" stroke-width="1.1"/>
<line x1="498.2" y1="556.8" x2="502.8" y2="556.8" stroke="#b0002a" stroke-width="1.1"/>
<polyline points="318.60,476.70 340.00,486.60 356.05,495.00 393.50,514.20 468.40,543.40 500.50,552.60" fill="none" stroke="#6cb04a" stroke-width="1.3"/>
<polyline points="318.60,476.70 340.00,488.00 356.05,497.20 393.50,515.70 468.40,539.20 500.50,554.60" fill="none" stroke="#2b4c8c" stroke-width="1.3" stroke-dasharray="3 1.7"/>
<polyline points="318.60,476.70 340.00,485.00 356.05,493.30 393.50,511.60 468.40,541.90 500.50,553.20" fill="none" stroke="#b0002a" stroke-width="1.4"/>
<path d="M316.00 478.80L318.60 474.30L321.20 478.80Z" fill="#6cb04a"/>
<path d="M337.40 488.70L340.00 484.20L342.60 488.70Z" fill="#6cb04a"/>
<path d="M353.45 497.10L356.05 492.60L358.65 497.10Z" fill="#6cb04a"/>
<path d="M390.90 516.30L393.50 511.80L396.10 516.30Z" fill="#6cb04a"/>
<path d="M465.80 545.50L468.40 541.00L471.00 545.50Z" fill="#6cb04a"/>
<path d="M497.90 554.70L500.50 550.20L503.10 554.70Z" fill="#6cb04a"/>
<rect x="316.30" y="474.40" width="4.6" height="4.6" fill="#2b4c8c"/>
<rect x="337.70" y="485.70" width="4.6" height="4.6" fill="#2b4c8c"/>
<rect x="353.75" y="494.90" width="4.6" height="4.6" fill="#2b4c8c"/>
<rect x="391.20" y="513.40" width="4.6" height="4.6" fill="#2b4c8c"/>
<rect x="466.10" y="536.90" width="4.6" height="4.6" fill="#2b4c8c"/>
<rect x="498.20" y="552.30" width="4.6" height="4.6" fill="#2b4c8c"/>
<circle cx="318.60" cy="476.70" r="2.6" fill="#b0002a"/>
<circle cx="340.00" cy="485.00" r="2.6" fill="#b0002a"/>
<circle cx="356.05" cy="493.30" r="2.6" fill="#b0002a"/>
<circle cx="393.50" cy="511.60" r="2.6" fill="#b0002a"/>
<circle cx="468.40" cy="541.90" r="2.6" fill="#b0002a"/>
<circle cx="500.50" cy="553.20" r="2.6" fill="#b0002a"/>
<line x1="454.6" y1="460.85" x2="468.2" y2="460.85" stroke="#b0002a" stroke-width="1.4"/>
<circle cx="461.5" cy="460.85" r="2.4" fill="#b0002a"/>
<line x1="454.6" y1="478.85" x2="468.2" y2="478.85" stroke="#2b4c8c" stroke-width="1.3" stroke-dasharray="3 1.7"/>
<rect x="459.2" y="476.55" width="4.6" height="4.6" fill="#2b4c8c"/>
<line x1="454.6" y1="497.3" x2="468.2" y2="497.3" stroke="#6cb04a" stroke-width="1.3"/>
<path d="M458.4 500.1L461.5 494.3L464.6 500.1Z" fill="#6cb04a"/>
<text x="472.2" y="464.2" font-size="9.8" text-anchor="start" fill="#222" textLength="8.4" lengthAdjust="spacingAndGlyphs" stroke="#222" stroke-width="0.45">Tf</text>
<text x="481.4" y="460.59999999999997" font-size="6.2" text-anchor="start" fill="#111" textLength="8.8" lengthAdjust="spacingAndGlyphs" stroke="#111" stroke-width="0.15">+/+</text>
<text x="472.2" y="482.2" font-size="9.8" text-anchor="start" fill="#222" textLength="8.4" lengthAdjust="spacingAndGlyphs" stroke="#222" stroke-width="0.45">Tf</text>
<text x="481.4" y="478.59999999999997" font-size="6.2" text-anchor="start" fill="#111" textLength="23.8" lengthAdjust="spacingAndGlyphs" stroke="#111" stroke-width="0.15">N-bl/N-bl</text>
<text x="472.2" y="500" font-size="9.8" text-anchor="start" fill="#222" textLength="8.4" lengthAdjust="spacingAndGlyphs" stroke="#222" stroke-width="0.45">Tf</text>
<text x="481.4" y="496.4" font-size="6.2" text-anchor="start" fill="#111" textLength="22.6" lengthAdjust="spacingAndGlyphs" stroke="#111" stroke-width="0.15">C-bl/C-bl</text>
<rect x="0.75" y="0.75" width="518.5" height="623.5" fill="none" stroke="#000" stroke-width="1.5"/>
</svg>
</body></html>
